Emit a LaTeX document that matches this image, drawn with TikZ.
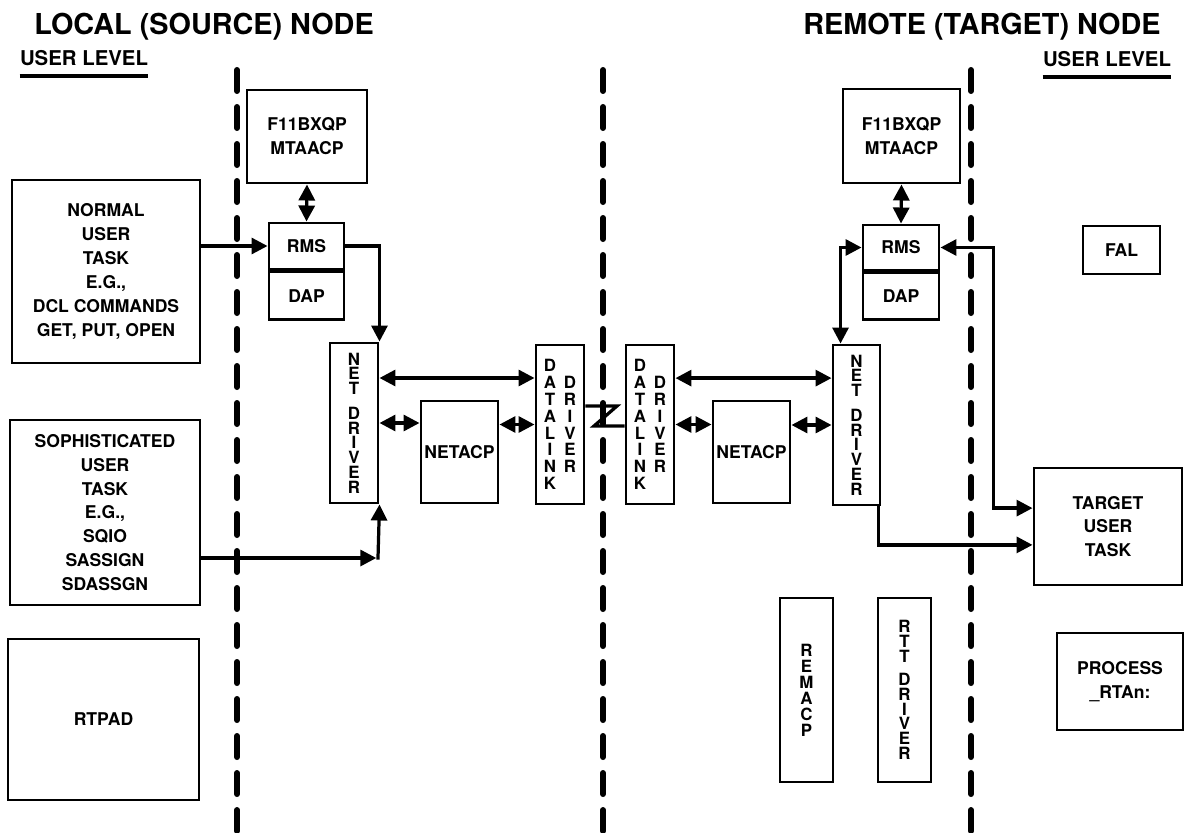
\documentclass[tikz,border=0pt]{standalone}
\usepackage{fontspec}
\setmainfont{TeX Gyre Heros}
\usetikzlibrary{positioning,arrows.meta,calc}
\tikzset{
  box/.style={draw,line width=2.1pt,inner sep=0pt,align=center,
              font=\bfseries\fontsize{12.5}{17}\selectfont},
  vbox/.style={box,font=\bfseries\fontsize{12}{10.5}\selectfont},
  vtext/.style={inner sep=0pt,align=center,font=\bfseries\fontsize{12}{12}\selectfont},
  ln/.style={-{Triangle[length=4mm,width=4mm]},line width=2.3pt},
  lnb/.style={{Triangle[length=4mm,width=4mm]}-{Triangle[length=4mm,width=4mm]},line width=2.3pt},
  link/.style={line width=2.3pt,line join=miter},
  sep/.style={line width=1.5mm,line cap=round,dash pattern=on 5.25mm off 4mm},
  title/.style={inner sep=0pt,font=\bfseries\fontsize{20.5}{24}\selectfont},
  lvl/.style={inner sep=0pt,font=\bfseries\fontsize{14.5}{17}\selectfont},
}
\begin{document}
\begin{tikzpicture}[x=0.25mm,y=-0.25mm]
\useasboundingbox (0,0) rectangle (1187,833);

% Headings
\node[title,anchor=base] (locT) at (204,35) {LOCAL (SOURCE) NODE};
\node[title,anchor=base] (remT) at (982,35) {REMOTE (TARGET) NODE};
\node[lvl,anchor=base] (ulL) at (84,66) {USER LEVEL};
\node[lvl,anchor=base] (ulR) at (1107,67) {USER LEVEL};
\draw[line width=1mm] ([yshift=-2.6mm]ulL.base west) -- ([yshift=-2.6mm]ulL.base east);
\draw[line width=1mm] ([yshift=-2.6mm]ulR.base west) -- ([yshift=-2.6mm]ulR.base east);

% Level separators
\draw[sep] (237,70) -- (237,840);
\draw[sep] (603,70) -- (603,840);
\draw[sep] (971,70) -- (971,840);

% Local user tasks
\node[box,minimum width=47mm,minimum height=45.75mm] (nut) at (106,271.5)
  {NORMAL\\USER\\TASK\\E.G.,\\DCL COMMANDS\\GET, PUT, OPEN};
\node[box,minimum width=47.5mm,minimum height=46.25mm] (sut) at (105,512.5)
  {SOPHISTICATED\\USER\\TASK\\E.G.,\\SQIO\\SASSIGN\\SDASSGN};
\node[box,minimum width=47.75mm,minimum height=40.25mm] (rtpad) at (103.5,719.5) {RTPAD};

% Local node
\node[box,minimum width=30mm,minimum height=23.25mm] (f11L) at (307,136.5) {F11BXQP\\MTAACP};
\node[box,minimum width=18.75mm,minimum height=11.5mm] (rmsL) at (306.5,246) {RMS};
\node[box,minimum width=18.75mm,minimum height=12mm,anchor=north] (dapL) at (rmsL.south) {DAP};
\node[vbox,minimum width=12mm,minimum height=40mm] (ndL) at (354,423)
  {N\\E\\T\\[7pt]D\\R\\I\\V\\E\\R};
\node[box,minimum width=19.25mm,minimum height=25.5mm] (nacpL) at (459.5,452) {NETACP};
\node[box,minimum width=12mm,minimum height=39.75mm] (dlL) at (560,424.5) {};
\node[vtext] (dlLa) at ([xshift=-2.5mm]dlL.center) {D\\A\\T\\A\\L\\I\\N\\K};
\node[vtext] (dlLb) at ([xshift=2.5mm]dlL.center) {D\\R\\I\\V\\E\\R};

% Remote node
\node[box,minimum width=12mm,minimum height=39.75mm] (dlR) at (650,424.5) {};
\node[vtext] (dlRa) at ([xshift=-2.5mm]dlR.center) {D\\A\\T\\A\\L\\I\\N\\K};
\node[vtext] (dlRb) at ([xshift=2.5mm]dlR.center) {D\\R\\I\\V\\E\\R};
\node[box,minimum width=19.25mm,minimum height=25.5mm] (nacpR) at (751.5,452) {NETACP};
\node[vbox,minimum width=11.75mm,minimum height=40mm] (ndR) at (856.5,425)
  {N\\E\\T\\[7pt]D\\R\\I\\V\\E\\R};
\node[box,minimum width=29.25mm,minimum height=23.5mm] (f11R) at (901.5,136) {F11BXQP\\MTAACP};
\node[box,minimum width=19mm,minimum height=11.25mm] (rmsR) at (901,247.5) {RMS};
\node[box,minimum width=19mm,minimum height=11.75mm,anchor=north] (dapR) at (rmsR.south) {DAP};
\node[vbox,minimum width=13.25mm,minimum height=46mm,
      font=\bfseries\fontsize{12}{11.4}\selectfont] (remacp) at (806.5,690) {R\\E\\M\\A\\C\\P};
\node[vbox,minimum width=13.25mm,minimum height=46mm] (rtt) at (904.5,690)
  {R\\T\\T\\[6pt]D\\R\\I\\V\\E\\R};

% Remote user level
\node[box,minimum width=19.25mm,minimum height=12mm] (fal) at (1121.5,250) {FAL};
\node[box,minimum width=37mm,minimum height=29.25mm] (tut) at (1108,526.5) {TARGET\\USER\\TASK};
\node[box,minimum width=31.5mm,minimum height=24.25mm] (proc) at (1120,681.5)
  {PROCESS\\\textunderscore RTAn:};

% Local connections
\draw[lnb] (f11L.south) -- (rmsL.north);
\draw[ln] (nut.east |- rmsL.west) -- (rmsL.west);
\draw[ln] (rmsL.east) -| (ndL.north east);
\coordinate (jL) at (378,558);
\draw[ln,shorten >=1.2pt] (sut.east |- jL) -- (jL);
\draw[ln,line cap=rect] (jL) -- (ndL.south east);
\draw[lnb] ([yshift=11.25mm]ndL.east) -- ([yshift=11.25mm]ndL.east -| dlL.west);
\draw[lnb] (ndL.east) -- (ndL.east -| nacpL.west);
\draw[lnb] (nacpL.east |- dlL.west) -- (dlL.west);

% Line between the data links
\coordinate (zA) at (617,406);
\coordinate (zB) at (594,426);
\draw[link] (dlL.east |- zA) -- (zA) -- (zB) -- (zB -| dlR.west);

% Remote connections
\draw[lnb] ([yshift=11.6mm]dlR.east) -- ([yshift=11.6mm]dlR.east -| ndR.west);
\draw[lnb] (dlR.east) -- (dlR.east -| nacpR.west);
\draw[lnb] (nacpR.east |- ndR.west) -- (ndR.west);
\draw[lnb] (f11R.south) -- (rmsR.north);
\draw[lnb] (rmsR.west) -| ([xshift=2.25mm]ndR.north west);
\coordinate (tR) at ([yshift=4.6mm]tut.west);
\draw[lnb] (rmsR.east) -- ++(53,0) |- (tR);
\draw[ln] ([xshift=-0.75mm]ndR.south east) |- ([yshift=-4.6mm]tut.west);

\end{tikzpicture}
\end{document}
